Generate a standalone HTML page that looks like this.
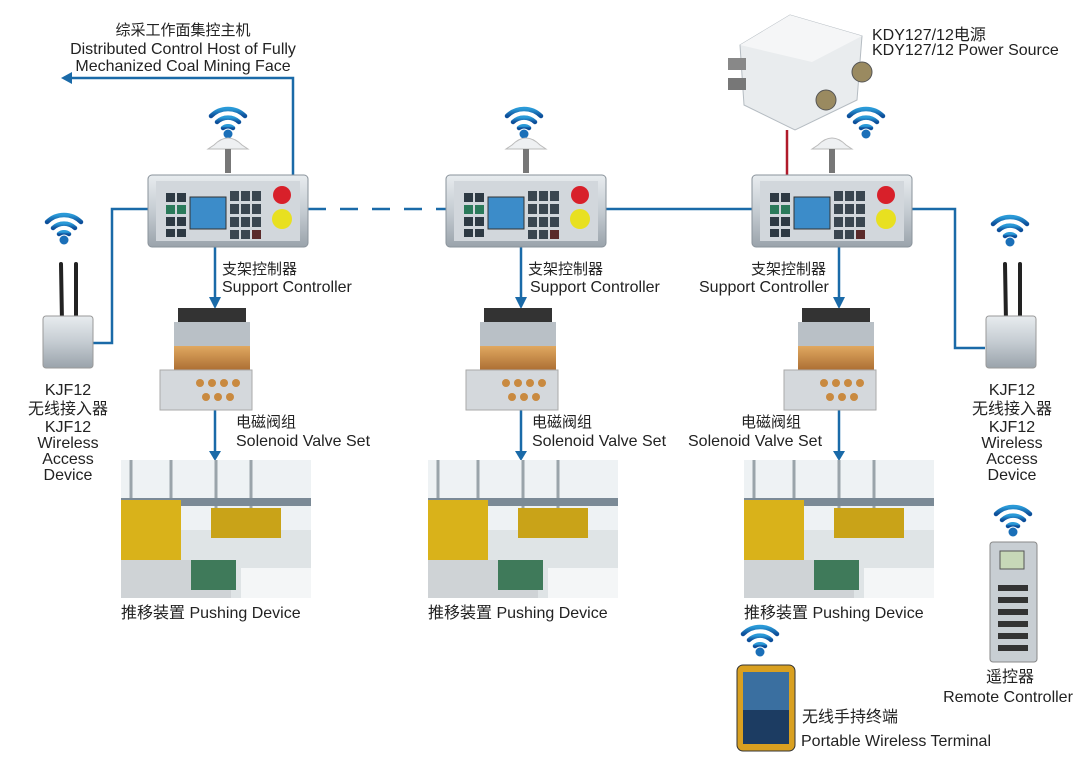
<!DOCTYPE html>
<html><head><meta charset="utf-8"><style>
html,body{margin:0;padding:0;background:#fff}
svg{display:block}
text{font-family:"Liberation Sans","Noto Sans CJK SC",sans-serif;fill:#222}
</style></head><body>
<svg width="1080" height="767" viewBox="0 0 1080 767" xmlns="http://www.w3.org/2000/svg">
<defs>
<linearGradient id="wg" x1="0" y1="0" x2="0" y2="1"><stop offset="0" stop-color="#2a9ad8"/><stop offset="1" stop-color="#0d4f9a"/></linearGradient>
<linearGradient id="met" x1="0" y1="0" x2="0" y2="1"><stop offset="0" stop-color="#e8ecef"/><stop offset=".5" stop-color="#c5ccd2"/><stop offset="1" stop-color="#9aa3ab"/></linearGradient>
<linearGradient id="brass" x1="0" y1="0" x2="0" y2="1"><stop offset="0" stop-color="#e0a860"/><stop offset="1" stop-color="#a86a30"/></linearGradient>
<g id="wifi">
<path d="M-17,-6 A24,24 0 0 1 17,-6" fill="none" stroke="url(#wg)" stroke-width="4.5" stroke-linecap="round"/>
<path d="M-11,0 A16,16 0 0 1 11,0" fill="none" stroke="url(#wg)" stroke-width="4.5" stroke-linecap="round"/>
<path d="M-5,6 A8,8 0 0 1 5,6" fill="none" stroke="url(#wg)" stroke-width="4.5" stroke-linecap="round"/>
<circle cx="0" cy="12" r="4.5" fill="#1a6fb8"/>
</g>
<g id="ctrl">
<path d="M-14,-30 Q0,-44 14,-30 L20,-26 L-20,-26Z" fill="#eef0f2" stroke="#bbb"/>
<rect x="-3" y="-26" width="6" height="24" fill="#777"/>
<rect x="-80" y="0" width="160" height="72" rx="4" fill="url(#met)" stroke="#8a939b"/>
<rect x="-72" y="6" width="144" height="60" fill="#d2d7dc"/>
<g fill="#2e3a44"><rect x="-62" y="18" width="9" height="9"/><rect x="-51" y="18" width="9" height="9"/><rect x="-62" y="30" width="9" height="9" fill="#2a7a5a"/><rect x="-51" y="30" width="9" height="9" fill="#2a7a5a"/><rect x="-62" y="42" width="9" height="9"/><rect x="-51" y="42" width="9" height="9"/><rect x="-62" y="54" width="9" height="8"/><rect x="-51" y="54" width="9" height="8"/></g>
<rect x="-38" y="22" width="36" height="32" fill="#3c8cc9" stroke="#333"/>
<g fill="#3a4650"><rect x="2" y="16" width="9" height="10"/><rect x="13" y="16" width="9" height="10"/><rect x="24" y="16" width="9" height="10"/><rect x="2" y="29" width="9" height="10"/><rect x="13" y="29" width="9" height="10"/><rect x="24" y="29" width="9" height="10"/><rect x="2" y="42" width="9" height="10"/><rect x="13" y="42" width="9" height="10"/><rect x="24" y="42" width="9" height="10"/><rect x="2" y="55" width="9" height="9"/><rect x="13" y="55" width="9" height="9"/><rect x="24" y="55" width="9" height="9" fill="#5a2a2a"/></g>
<circle cx="54" cy="20" r="9" fill="#d8202a"/>
<circle cx="54" cy="44" r="10" fill="#e8e020"/>
</g>
<g id="valve">
<rect x="12" y="0" width="68" height="18" fill="#333"/>
<rect x="8" y="14" width="76" height="24" fill="#b9c0c6"/>
<rect x="8" y="38" width="76" height="26" fill="url(#brass)"/>
<rect x="-6" y="62" width="92" height="40" fill="#d4d8dc" stroke="#aaa"/>
<g fill="#c98a40"><circle cx="34" cy="75" r="4"/><circle cx="46" cy="75" r="4"/><circle cx="58" cy="75" r="4"/><circle cx="70" cy="75" r="4"/><circle cx="40" cy="89" r="4"/><circle cx="52" cy="89" r="4"/><circle cx="64" cy="89" r="4"/></g>
</g>
<g id="photo">
<rect x="0" y="0" width="190" height="138" fill="#dfe4e6"/>
<rect x="0" y="0" width="190" height="70" fill="#eef2f4"/>
<g stroke="#9aa4aa" stroke-width="3"><line x1="10" y1="0" x2="10" y2="80"/><line x1="50" y1="0" x2="50" y2="70"/><line x1="95" y1="0" x2="95" y2="75"/><line x1="130" y1="0" x2="130" y2="70"/></g>
<rect x="0" y="38" width="190" height="8" fill="#7b8a96"/>
<rect x="0" y="40" width="60" height="60" fill="#d9b21a"/>
<rect x="90" y="48" width="70" height="30" fill="#c9a318"/>
<rect x="0" y="100" width="110" height="38" fill="#cfd3d6"/>
<rect x="70" y="100" width="45" height="30" fill="#3f7a5a"/>
<rect x="120" y="108" width="70" height="30" fill="#f4f6f7"/>
</g>
</defs>

<g stroke="#1a6aa8" stroke-width="2.5" fill="none">
<polyline points="293,176 293,78 70,78"/>
<polyline points="148,209 112,209 112,343 93,343"/>
<line x1="308" y1="209" x2="447" y2="209" stroke-dasharray="18,14"/>
<line x1="606" y1="209" x2="752" y2="209"/>
<polyline points="912,209 955,209 955,348 985,348"/>
<line x1="215" y1="246" x2="215" y2="298"/>
<line x1="215" y1="410" x2="215" y2="452"/>
<line x1="521" y1="246" x2="521" y2="298"/>
<line x1="521" y1="410" x2="521" y2="452"/>
<line x1="839" y1="246" x2="839" y2="298"/>
<line x1="839" y1="410" x2="839" y2="452"/>
</g>
<line x1="787" y1="130" x2="787" y2="176" stroke="#b01a2a" stroke-width="2.5"/>
<g fill="#1a6aa8">
<polygon points="61,78 72,72 72,84"/>
<polygon points="209,297 221,297 215,309"/><polygon points="209,451 221,451 215,461"/>
<polygon points="515,297 527,297 521,309"/><polygon points="515,451 527,451 521,461"/>
<polygon points="833,297 845,297 839,309"/><polygon points="833,451 845,451 839,461"/>
</g>

<g>
<polygon points="740,45 790,15 862,36 857,100 795,130 744,105" fill="#e9ecee" stroke="#b5bcc2"/>
<polygon points="740,45 790,15 862,36 812,62" fill="#f5f6f7"/>
<rect x="728" y="58" width="18" height="12" fill="#888"/>
<rect x="728" y="78" width="18" height="12" fill="#777"/>
<circle cx="862" cy="72" r="10" fill="#9a8a60" stroke="#555"/>
<circle cx="826" cy="100" r="10" fill="#9a8a60" stroke="#555"/>
</g>

<use href="#wifi" x="228" y="122"/>
<use href="#wifi" x="524" y="122"/>
<use href="#wifi" x="866" y="122"/>
<use href="#wifi" x="64" y="228"/>
<use href="#wifi" x="1010" y="230"/>
<use href="#wifi" x="1013" y="520"/>
<use href="#wifi" x="760" y="640"/>

<use href="#ctrl" x="228" y="175"/>
<use href="#ctrl" x="526" y="175"/>
<use href="#ctrl" x="832" y="175"/>

<use href="#valve" x="166" y="308"/>
<use href="#valve" x="472" y="308"/>
<use href="#valve" x="790" y="308"/>

<use href="#photo" x="121" y="460"/>
<use href="#photo" x="428" y="460"/>
<use href="#photo" x="744" y="460"/>

<g stroke="#222" stroke-width="4" stroke-linecap="round"><line x1="61" y1="264" x2="62" y2="322"/><line x1="76" y1="264" x2="76" y2="322"/></g>
<rect x="43" y="316" width="50" height="52" rx="3" fill="url(#met)" stroke="#999"/>
<g stroke="#222" stroke-width="4" stroke-linecap="round"><line x1="1005" y1="264" x2="1006" y2="322"/><line x1="1020" y1="264" x2="1020" y2="322"/></g>
<rect x="986" y="316" width="50" height="52" rx="3" fill="url(#met)" stroke="#999"/>

<rect x="990" y="542" width="47" height="120" rx="3" fill="#c8ced3" stroke="#888"/>
<rect x="1000" y="551" width="24" height="18" fill="#c7d8b8" stroke="#555"/>
<g fill="#333"><rect x="998" y="585" width="30" height="6"/><rect x="998" y="597" width="30" height="6"/><rect x="998" y="609" width="30" height="6"/><rect x="998" y="621" width="30" height="6"/><rect x="998" y="633" width="30" height="6"/><rect x="998" y="645" width="30" height="6"/></g>

<rect x="737" y="665" width="58" height="86" rx="6" fill="#d9a020" stroke="#333"/>
<rect x="743" y="672" width="46" height="72" fill="#3a6fa0"/>
<rect x="743" y="710" width="46" height="34" fill="#1c3c62"/>

<g font-size="16">
<text x="183" y="35" text-anchor="middle" font-size="15">综采工作面集控主机</text>
<text x="183" y="54" text-anchor="middle">Distributed Control Host of Fully</text>
<text x="183" y="71" text-anchor="middle">Mechanized Coal Mining Face</text>
<text x="872" y="40">KDY127/12电源</text>
<text x="872" y="55">KDY127/12 Power Source</text>
<text x="222" y="274" font-size="15">支架控制器</text>
<text x="222" y="292">Support Controller</text>
<text x="528" y="274" font-size="15">支架控制器</text>
<text x="530" y="292">Support Controller</text>
<text x="751" y="274" font-size="15">支架控制器</text>
<text x="699" y="292">Support Controller</text>
<text x="236" y="427" font-size="15">电磁阀组</text>
<text x="236" y="446">Solenoid Valve Set</text>
<text x="532" y="427" font-size="15">电磁阀组</text>
<text x="532" y="446">Solenoid Valve Set</text>
<text x="741" y="427" font-size="15">电磁阀组</text>
<text x="688" y="446">Solenoid Valve Set</text>
<text x="121" y="618">推移装置 Pushing Device</text>
<text x="428" y="618">推移装置 Pushing Device</text>
<text x="744" y="618">推移装置 Pushing Device</text>
<g text-anchor="middle">
<text x="68" y="395">KJF12</text><text x="68" y="414">无线接入器</text><text x="68" y="432">KJF12</text><text x="68" y="448">Wireless</text><text x="68" y="464">Access</text><text x="68" y="480">Device</text>
<text x="1012" y="395">KJF12</text><text x="1012" y="414">无线接入器</text><text x="1012" y="432">KJF12</text><text x="1012" y="448">Wireless</text><text x="1012" y="464">Access</text><text x="1012" y="480">Device</text>
<text x="1010" y="682">遥控器</text><text x="1008" y="702">Remote Controller</text>
</g>
<text x="802" y="722">无线手持终端</text>
<text x="801" y="746">Portable Wireless Terminal</text>
</g>
</svg>
</body></html>
